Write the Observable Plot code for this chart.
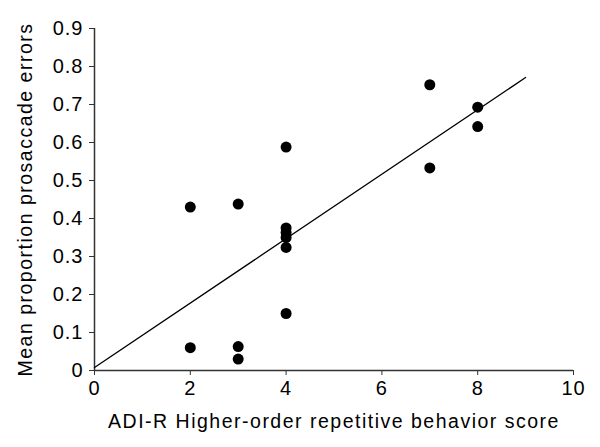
<!DOCTYPE html>
<html>
<head>
<meta charset="utf-8">
<script src="https://cdn.jsdelivr.net/npm/d3@7"></script>
<script src="https://cdn.jsdelivr.net/npm/@observablehq/plot@0.6"></script>
<style>
  html, body { margin: 0; padding: 0; background: #fff; }
  #chart svg { display: block; }
  #chart svg text { letter-spacing: 1px; }
  #chart svg g[aria-label="text"] text { letter-spacing: 1.5px; }
</style>
</head>
<body>
<div id="chart"></div>
<script>
const scoreX = [2, 2, 3, 3, 3, 4, 4, 4, 4, 4, 4, 7, 7, 8, 8];
const errorY = [0.43, 0.06, 0.438, 0.063, 0.03, 0.588, 0.375, 0.363, 0.35, 0.324, 0.15, 0.752, 0.533, 0.693, 0.642];
const fitX = [0, 9];
const fitY = [0.008, 0.771];
const xTicks = [0, 2, 4, 6, 8, 10];
const yTicks = [0, 0.1, 0.2, 0.3, 0.4, 0.5, 0.6, 0.7, 0.8, 0.9];

const points = scoreX.map((x, i) => ({x, y: errorY[i]}));
const fit = fitX.map((x, i) => ({x, y: fitY[i]}));

const chart = Plot.plot({
  width: 600,
  height: 447,
  marginLeft: 94,
  marginRight: 27,
  marginTop: 28,
  marginBottom: 77,
  style: {fontFamily: "'Liberation Sans', Arial, Helvetica, sans-serif", fontSize: "19px", color: "#000", background: "#fff"},
  x: {domain: [0, 10]},
  y: {domain: [0, 0.9]},
  marks: [
    Plot.axisX({ticks: xTicks, tickSize: 5, tickPadding: 5, fontSize: 20, stroke: "#333", label: null}),
    Plot.axisY({ticks: yTicks, tickSize: 5, tickPadding: 6, fontSize: 20, stroke: "#333", label: null,
      tickFormat: d => d === 0 ? "0" : d.toFixed(1)}),
    Plot.ruleY([0], {stroke: "#333", strokeWidth: 1.5}),
    Plot.ruleX([0], {stroke: "#333", strokeWidth: 1.5}),
    Plot.line(fit, {x: "x", y: "y", stroke: "#000", strokeWidth: 1.3}),
    Plot.dot(points, {x: "x", y: "y", r: 5.5, fill: "#000", stroke: "none"}),
    Plot.text(["ADI-R Higher-order repetitive behavior score"], {
      frameAnchor: "bottom", dy: 57, fontSize: 19.5, fill: "#000"
    }),
    Plot.text(["Mean proportion prosaccade errors"], {
      frameAnchor: "left", dx: -69, rotate: -90, textAnchor: "middle", fontSize: 19.5, fill: "#000"
    })
  ]
});
document.getElementById("chart").appendChild(chart);
</script>
</body>
</html>
